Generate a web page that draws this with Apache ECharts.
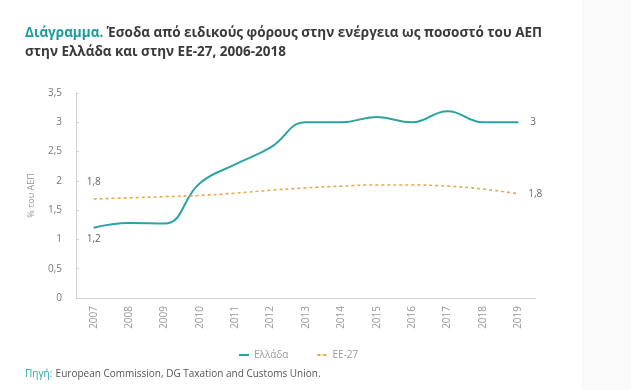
<!DOCTYPE html>
<html><head><meta charset="utf-8">
<script src="https://cdn.jsdelivr.net/npm/echarts@6/dist/echarts.min.js"></script>
<style>html,body{margin:0;padding:0;background:#fff}#c{width:631px;height:390px}</style>
</head><body><div id="c"></div>
<script>
const years = ['2007','2008','2009','2010','2011','2012','2013','2014','2015','2016','2017','2018','2019'];
const greece = [1.2, 1.28, 1.27, 1.96, 2.28, 2.57, 3.0, 3.0, 3.09, 3.0, 3.19, 3.0, 3.0];
const eu27 = [1.69, 1.71, 1.73, 1.75, 1.79, 1.84, 1.88, 1.91, 1.93, 1.93, 1.91, 1.86, 1.78];
const yTicks = [0, 0.5, 1, 1.5, 2, 2.5, 3, 3.5];
const seriesNames = ['Ελλάδα', 'ΕΕ-27'];

const FONT = '"Open Sans", "Noto Sans", sans-serif';
const TEAL = '#2aa3a3';
const ORANGE = '#e9a84a';
const chart = echarts.init(document.getElementById('c'), null, {renderer: 'canvas'});
const fmt = v => String(v).replace('.', ',');
chart.setOption({
  animation: false,
  textStyle: {fontFamily: FONT},
  graphic: [
    {type: 'rect', left: 582, top: 0, shape: {width: 49, height: 390}, style: {fill: '#f9f9f9'}, z: -10},
    {type: 'text', left: 25, top: 26, style: {rich: {
        a: {fontFamily: FONT, fontSize: 13.5, fontWeight: 'bold', fill: '#1b9c9c'},
        b: {fontFamily: FONT, fontSize: 13.5, fontWeight: 'bold', fill: '#3a3a3a'}},
      text: '{a|Διάγραμμα.} {b|Έσοδα από ειδικούς φόρους στην ενέργεια ως ποσοστό του ΑΕΠ}'}},
    {type: 'text', left: 25, top: 45, style: {fontFamily: FONT, fontSize: 13.5, fontWeight: 'bold', fill: '#3a3a3a',
      text: 'στην Ελλάδα και στην ΕΕ-27, 2006-2018'}},
    {type: 'text', left: 25, top: 368, style: {rich: {
        a: {fontFamily: FONT, fontSize: 10, fill: '#2aa3a3'},
        b: {fontFamily: FONT, fontSize: 10, fill: '#555'}},
      text: '{a|Πηγή:} {b|European Commission, DG Taxation and Customs Union.}'}}
  ],
  legend: {
    data: seriesNames, top: 345, left: 233, itemWidth: 10, itemHeight: 2, itemGap: 28,
    textStyle: {fontFamily: FONT, fontSize: 10, color: '#999'}
  },
  grid: {left: 76, right: 95, top: 93, bottom: 92},
  xAxis: {
    type: 'category', data: years, boundaryGap: true,
    axisLine: {lineStyle: {color: '#d3d3d3'}}, axisTick: {show: false},
    axisLabel: {rotate: 90, color: '#999', fontSize: 10, fontFamily: FONT, margin: 8}
  },
  yAxis: {
    type: 'value', min: 0, max: 3.5, interval: 0.5,
    name: '% του ΑΕΠ', nameLocation: 'middle', nameGap: 40, nameRotate: 90,
    nameTextStyle: {color: '#999', fontSize: 9, fontFamily: FONT},
    axisLine: {show: true, lineStyle: {color: '#d3d3d3'}},
    axisTick: {show: true, inside: true, length: 3, lineStyle: {color: '#d3d3d3'}},
    splitLine: {show: false},
    axisLabel: {color: '#777', fontSize: 10, fontFamily: FONT, margin: 14,
      formatter: v => yTicks.includes(v) ? fmt(v) : ''}
  },
  series: [
    {name: seriesNames[0], type: 'line', data: greece, smooth: 0.45, showSymbol: false, symbol: 'none',
      color: TEAL, lineStyle: {color: TEAL, width: 2},
      markPoint: {symbol: 'circle', symbolSize: 0, label: {show: true, color: '#666', fontSize: 10, fontFamily: FONT},
        data: [
          {coord: [0, greece[0]], value: greece[0], label: {position: 'bottom', distance: 6, formatter: '1,2'}},
          {coord: [12, greece[12]], value: greece[12], label: {position: 'right', distance: 12, formatter: '3'}}
        ]}
    },
    {name: seriesNames[1], type: 'line', data: eu27, smooth: 0.45, showSymbol: false, symbol: 'none',
      color: ORANGE, lineStyle: {color: ORANGE, width: 1.6, type: [3, 3]},
      markPoint: {symbol: 'circle', symbolSize: 0, label: {show: true, color: '#666', fontSize: 10, fontFamily: FONT},
        data: [
          {coord: [0, eu27[0]], value: eu27[0], label: {position: 'top', distance: 12, formatter: '1,8'}},
          {coord: [12, eu27[12]], value: eu27[12], label: {position: 'right', distance: 10, formatter: '1,8'}}
        ]}
    }
  ]
});
</script></body></html>
